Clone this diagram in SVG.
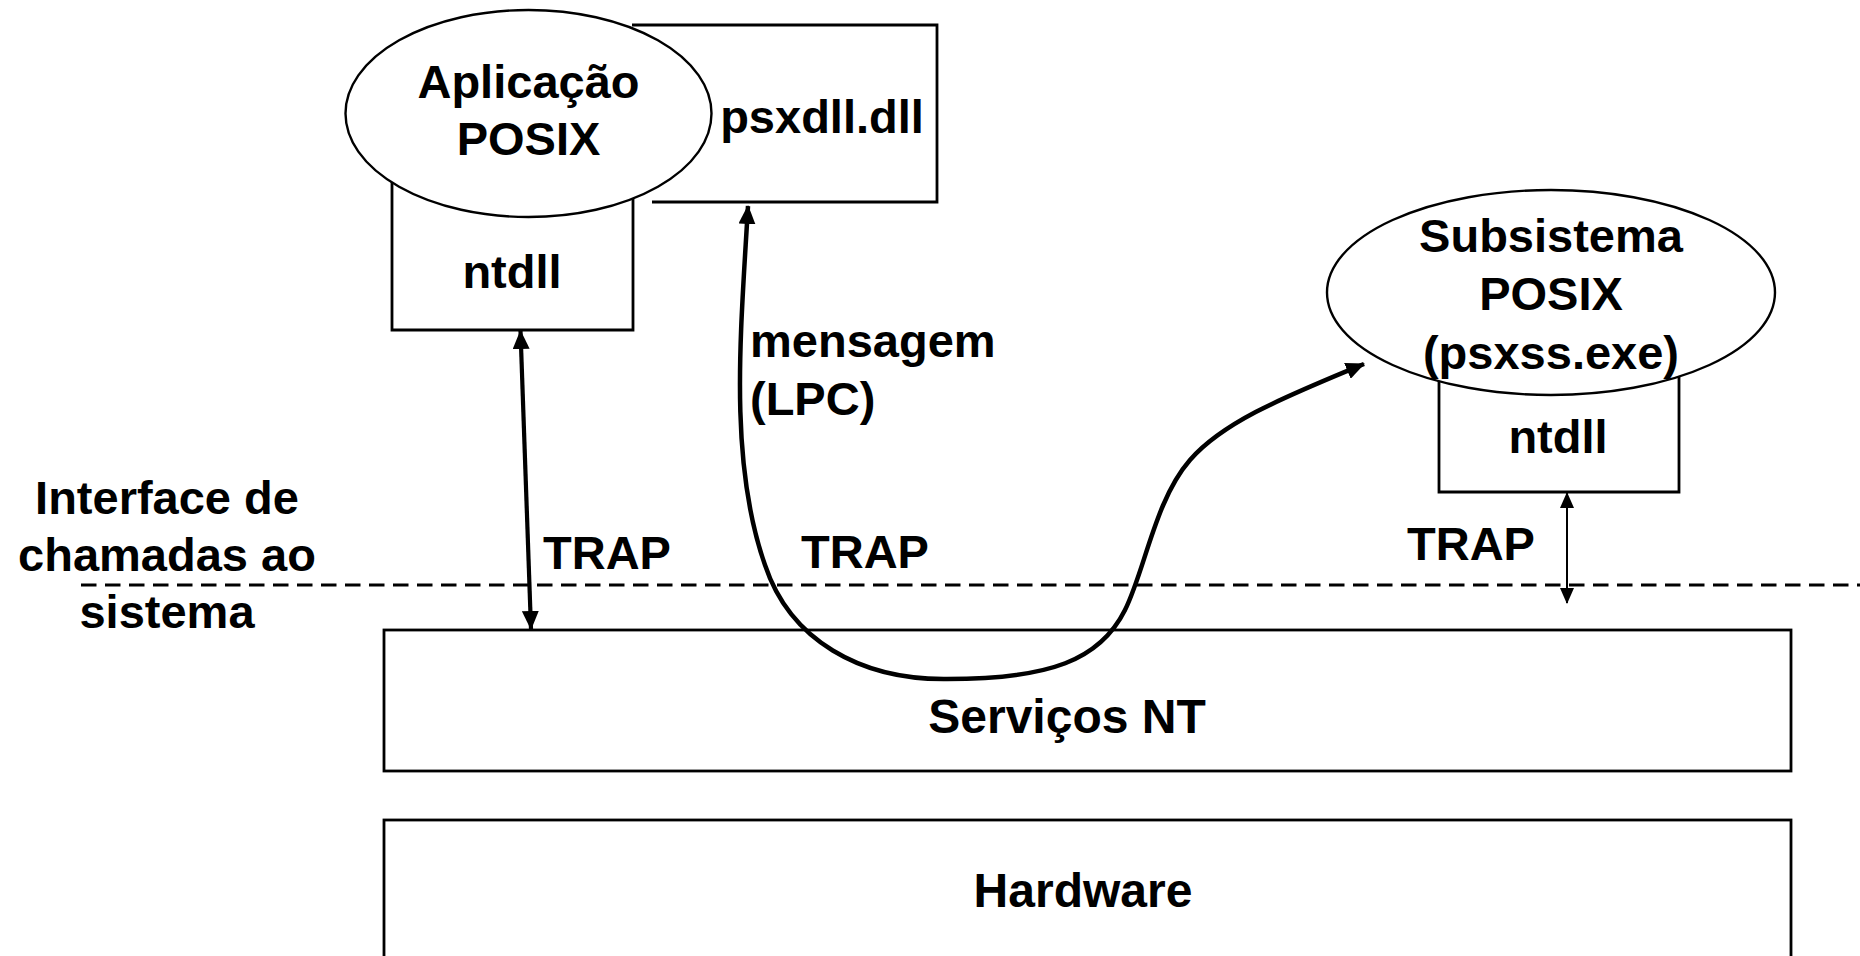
<svg xmlns="http://www.w3.org/2000/svg" width="1860" height="956" viewBox="0 0 1860 956">
<style>
  text { font-family: "Liberation Sans", Arial, sans-serif; font-weight: bold; font-size: 47px; fill: #000; }
  .c { text-anchor: middle; }
  .shape { fill: #fff; stroke: #000; stroke-width: 2.4; }
  .line { fill: none; stroke: #000; stroke-width: 2.8; }
  .layer { fill: #fff; stroke: #000; stroke-width: 2.8; }
</style>
<defs>
  <marker id="ahBig" markerUnits="userSpaceOnUse" markerWidth="19" markerHeight="17" refX="18" refY="8.5" orient="auto-start-reverse" viewBox="0 0 19 17">
    <path d="M0,0 L19,8.5 L0,17 z" fill="#000"/>
  </marker>
  <marker id="ahSmall" markerUnits="userSpaceOnUse" markerWidth="16" markerHeight="14" refX="15" refY="7" orient="auto-start-reverse" viewBox="0 0 16 14">
    <path d="M0,0 L16,7 L0,14 z" fill="#000"/>
  </marker>
</defs>

<rect width="1860" height="956" fill="#fff"/>

<g id="interface-line">
  <line x1="81" y1="585" x2="1860" y2="585" stroke="#000" stroke-width="2.8" stroke-dasharray="15.5 8.5"/>
  <text class="c" x="167" y="514">Interface de</text>
  <text class="c" x="167" y="571">chamadas ao</text>
  <text class="c" x="167" y="628">sistema</text>
</g>

<g id="servicos">
  <rect class="layer" x="384" y="630" width="1407" height="141"/>
  <text class="c" x="1067" y="733" style="font-size:48px">Serviços NT</text>
</g>

<g id="hardware">
  <rect class="layer" x="384" y="820" width="1407" height="200"/>
  <text class="c" x="1083" y="907" style="font-size:48px">Hardware</text>
</g>

<g id="psxdll">
  <path class="line" d="M632,25 H937 V202 H652"/>
  <text class="c" x="822" y="133">psxdll.dll</text>
</g>

<g id="ntdll-app">
  <path class="line" d="M392,180 V330 H633 V195"/>
  <text class="c" x="512" y="288">ntdll</text>
</g>

<g id="aplicacao">
  <ellipse class="shape" cx="528.5" cy="113.5" rx="183" ry="103.5"/>
  <text class="c" x="528.5" y="98">Aplicação</text>
  <text class="c" x="528.5" y="155">POSIX</text>
</g>

<g id="ntdll-sub">
  <path class="line" d="M1439,375 V492 H1679 V370"/>
  <text class="c" x="1558" y="453">ntdll</text>
</g>

<g id="subsistema">
  <ellipse class="shape" cx="1551" cy="292.5" rx="224" ry="102.5"/>
  <text class="c" x="1551" y="252">Subsistema</text>
  <text class="c" x="1551" y="310">POSIX</text>
  <text class="c" x="1551" y="369">(psxss.exe)</text>
</g>

<g id="labels">
  <text x="750" y="357">mensagem</text>
  <text x="750" y="415">(LPC)</text>
  <text x="543" y="569">TRAP</text>
  <text x="801" y="568">TRAP</text>
  <text x="1407" y="560">TRAP</text>
</g>

<g id="connectors">
  <line x1="520.5" y1="331" x2="531" y2="629" stroke="#000" stroke-width="4.2" marker-start="url(#ahBig)" marker-end="url(#ahBig)"/>
  <line x1="1567" y1="493" x2="1567" y2="603" stroke="#000" stroke-width="2" marker-start="url(#ahSmall)" marker-end="url(#ahSmall)"/>
  <path d="M748,206 C741,330 728,460 765,565 C790,640 860,680 947,679 C1050,679 1100,660 1125,610 C1145,570 1155,500 1190,460 C1225,420 1290,395 1364,364" fill="none" stroke="#000" stroke-width="4.5" marker-start="url(#ahBig)" marker-end="url(#ahBig)"/>
</g>
</svg>
